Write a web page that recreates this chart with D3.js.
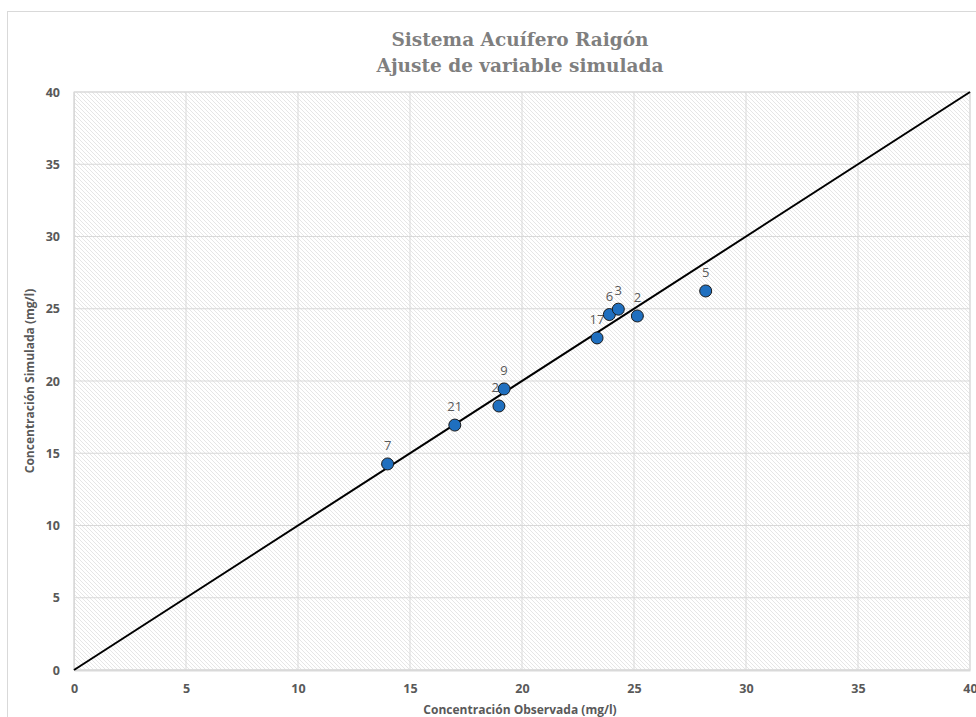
<!DOCTYPE html>
<html>
<head>
<meta charset="utf-8">
<script src="https://cdn.jsdelivr.net/npm/d3@7"></script>
<style>
  body { margin: 0; background: #fff; }
  svg { display: block; }
  .tick text { font-family: "Open Sans", "Liberation Sans", sans-serif; font-weight: bold; font-size: 12.5px; fill: #595959; }
</style>
</head>
<body>
<svg id="chart"></svg>
<script>
// datos: etiquetas de pozo, concentracion observada y simulada
const labels = ["7", "21", "20", "9", "17", "6", "3", "2", "5"];
const observed = [14.0, 17.0, 18.97, 19.2, 23.35, 23.9, 24.3, 25.15, 28.2];
const simulated = [14.26, 16.95, 18.27, 19.45, 22.98, 24.6, 24.97, 24.5, 26.23];
const ticks = [0, 5, 10, 15, 20, 25, 30, 35, 40];
const lineSim = [[0, 0], [40, 40]];

const width = 976;
const height = 717;
const plot = { left: 74, right: 970, top: 92, bottom: 670 };

let svg = d3.select("#chart")
    .attr("width", width)
    .attr("height", height);

// marco del grafico
svg.append("rect")
    .attr("x", 7.5).attr("y", 11.5)
    .attr("width", 980).attr("height", 720)
    .attr("fill", "#fff")
    .attr("stroke", "#d9d9d9");

// patron de rayado diagonal
let defs = svg.append("defs");
let pat = defs.append("pattern")
    .attr("id", "hatch")
    .attr("patternUnits", "userSpaceOnUse")
    .attr("width", 4).attr("height", 4);
pat.append("rect").attr("width", 4).attr("height", 4).attr("fill", "#fff");
pat.append("path")
    .attr("d", "M-1,-1 L5,5 M-1,3 L1,5 M3,-1 L5,1")
    .attr("stroke", "#e6e6e6")
    .attr("stroke-width", 1);

// escalas
let scaleX = d3.scaleLinear().domain([0, 40]).range([plot.left, plot.right]);
let scaleY = d3.scaleLinear().domain([0, 40]).range([plot.bottom, plot.top]);

svg.append("rect")
    .attr("x", plot.left).attr("y", plot.top)
    .attr("width", plot.right - plot.left)
    .attr("height", plot.bottom - plot.top)
    .attr("fill", "url(#hatch)")
    .attr("stroke", "#d9d9d9");

// lineas de la cuadricula
svg.append("g")
    .selectAll("line")
    .data(ticks)
    .enter().append("line")
    .attr("x1", d => scaleX(d)).attr("x2", d => scaleX(d))
    .attr("y1", plot.top).attr("y2", plot.bottom)
    .attr("stroke", "#d9d9d9");
svg.append("g")
    .selectAll("line")
    .data(ticks)
    .enter().append("line")
    .attr("x1", plot.left).attr("x2", plot.right)
    .attr("y1", d => scaleY(d)).attr("y2", d => scaleY(d))
    .attr("stroke", "#d9d9d9");

// ejes
let axisX = d3.axisBottom(scaleX).tickValues(ticks).tickSize(0).tickPadding(14);
let axisY = d3.axisLeft(scaleY).tickValues(ticks).tickSize(0).tickPadding(14);

svg.append("g")
    .attr("class", "x-axis")
    .attr("transform", `translate(0, ${plot.bottom})`)
    .call(axisX)
    .call(g => g.select(".domain").attr("stroke", "#d9d9d9").attr("stroke-width", 2));

svg.append("g")
    .attr("class", "y-axis")
    .attr("transform", `translate(${plot.left}, 0)`)
    .call(axisY)
    .call(g => g.select(".domain").attr("stroke", "#d9d9d9"));

// linea 1:1
svg.append("path")
    .datum(lineSim)
    .attr("fill", "none")
    .attr("stroke", "#000")
    .attr("stroke-width", 2)
    .attr("d", d3.line().x(d => scaleX(d[0])).y(d => scaleY(d[1])));

// puntos
let data = labels.map((l, i) => ({ label: l, x: observed[i], y: simulated[i] }));

svg.append("g")
    .selectAll("text")
    .data(data)
    .enter().append("text")
    .attr("x", d => scaleX(d.x))
    .attr("y", d => scaleY(d.y) - 14)
    .attr("text-anchor", "middle")
    .style("font-family", "'Open Sans', 'Liberation Sans', sans-serif")
    .style("font-size", "13px")
    .style("fill", "#595959")
    .text(d => d.label);

svg.append("g")
    .selectAll("circle")
    .data(data)
    .enter().append("circle")
    .attr("cx", d => scaleX(d.x))
    .attr("cy", d => scaleY(d.y))
    .attr("r", 6)
    .attr("fill", "#1f6fbf")
    .attr("stroke", "#1a1a1a")
    .attr("stroke-width", 1);

// titulo
let title = svg.append("text")
    .attr("x", 520)
    .attr("text-anchor", "middle")
    .style("font-family", "'DejaVu Serif', serif")
    .style("font-weight", "bold")
    .style("font-size", "18.5px")
    .style("fill", "#7f7f7f");
title.append("tspan").attr("x", 520).attr("y", 46).text("Sistema Acuífero Raigón");
title.append("tspan").attr("x", 520).attr("y", 72).text("Ajuste de variable simulada");

// titulos de ejes
svg.append("text")
    .attr("x", 520).attr("y", 714)
    .attr("text-anchor", "middle")
    .style("font-family", "'Open Sans', 'Liberation Sans', sans-serif")
    .style("font-weight", "bold")
    .style("font-size", "12px")
    .style("fill", "#595959")
    .text("Concentración Observada (mg/l)");

svg.append("text")
    .attr("transform", "translate(34, 381) rotate(-90)")
    .attr("text-anchor", "middle")
    .style("font-family", "'Open Sans', 'Liberation Sans', sans-serif")
    .style("font-weight", "bold")
    .style("font-size", "12px")
    .style("fill", "#595959")
    .text("Concentración Simulada (mg/l)");
</script>
</body>
</html>
